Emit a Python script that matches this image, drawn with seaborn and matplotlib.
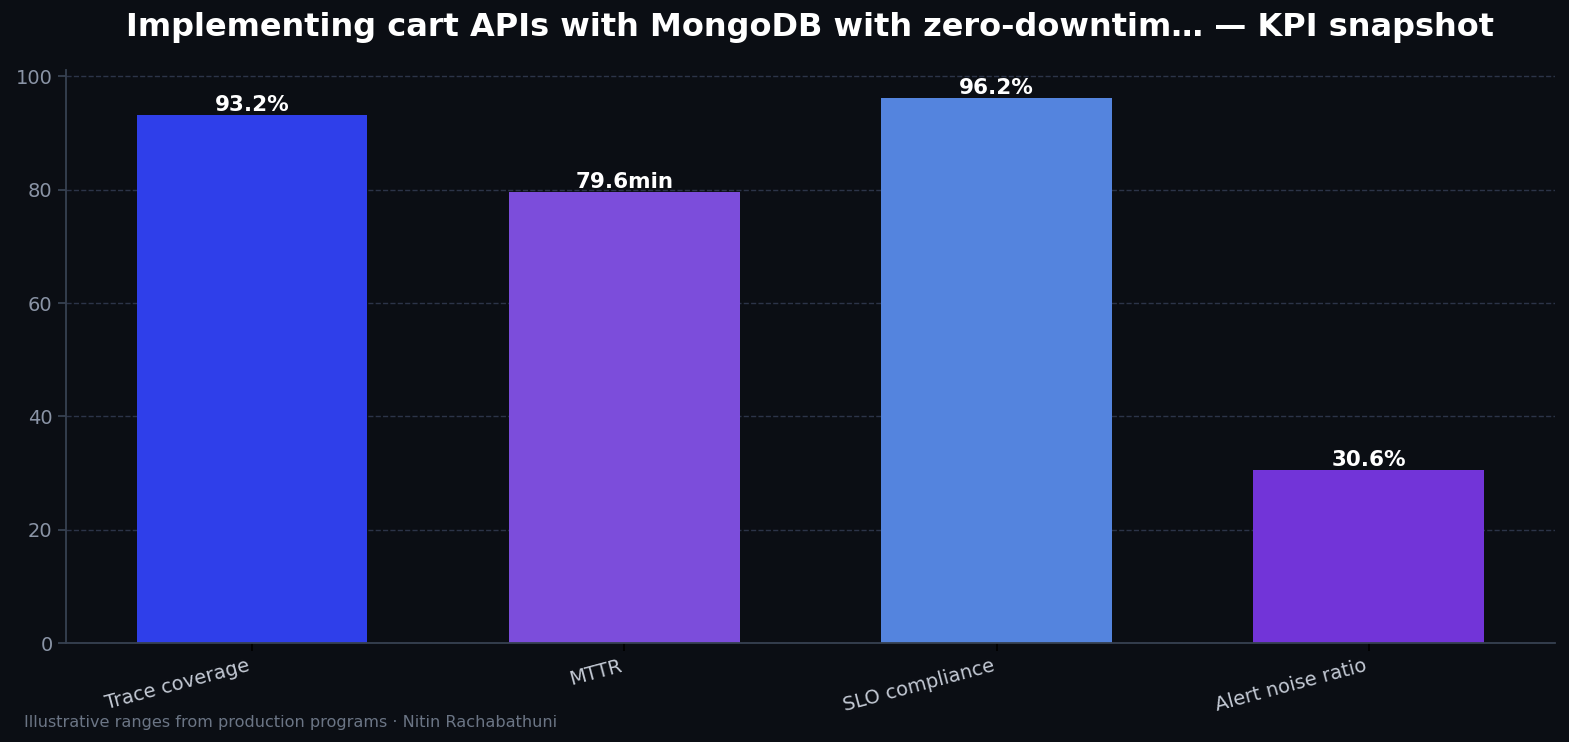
import matplotlib
matplotlib.use("Agg")
import matplotlib.pyplot as plt
import seaborn as sns
import pandas as pd

# KPI values
metrics = ["Trace coverage", "MTTR", "SLO compliance", "Alert noise ratio"]
values = [93.2, 79.6, 96.2, 30.6]
units = ["%", "min", "%", "%"]
colors = ["#2f3fea", "#7c4ddb", "#5484de", "#7234d8"]

bg = "#0b0e14"
df = pd.DataFrame({"Metric": metrics, "Value": values})

sns.set_style("dark")
plt.rcParams["font.family"] = ["DejaVu Sans"]

fig, ax = plt.subplots(figsize=(15.69, 7.42), dpi=100)
fig.patch.set_facecolor(bg)
ax.set_facecolor(bg)

sns.barplot(data=df, x="Metric", y="Value", hue="Metric", palette=colors,
            width=0.62, legend=False, saturation=1, linewidth=0, ax=ax)

for bar, v, u in zip(ax.patches, values, units):
    ax.annotate(f"{v}{u}", (bar.get_x() + bar.get_width() / 2, bar.get_height()),
                ha="center", va="bottom", color="white", fontsize=15.5,
                fontweight="bold", xytext=(0, 0), textcoords="offset points")

ax.set_ylim(0, max(values) * 1.05)
ax.set_xlabel("")
ax.set_ylabel("")
ax.set_title("Implementing cart APIs with MongoDB with zero-downtim\u2026 \u2014 KPI snapshot",
             color="white", fontsize=23, fontweight="bold", pad=25)

ax.grid(axis="y", linestyle="--", color="#2c3448", linewidth=1.0)
ax.grid(axis="x", visible=False)
ax.set_axisbelow(True)

for side in ["top", "right"]:
    ax.spines[side].set_visible(False)
for side in ["left", "bottom"]:
    ax.spines[side].set_visible(True)
    ax.spines[side].set_color("#374151")
    ax.spines[side].set_linewidth(1.3)

ax.tick_params(axis="y", colors="#374151", labelcolor="#8a94a6", labelsize=14,
               length=6, width=1.3, left=True)
ax.tick_params(axis="x", colors="black", labelcolor="#c3c9d4", labelsize=14,
               length=6, width=1.3, bottom=True)
plt.setp(ax.get_xticklabels(), rotation=15, ha="right")

fig.text(0.015, 0.02, "Illustrative ranges from production programs \u00b7 Nitin Rachabathuni",
         color="#6b7585", fontsize=11.6)

plt.subplots_adjust(left=0.042, right=0.991, top=0.905, bottom=0.133)
plt.savefig("out.png", dpi=100, facecolor=bg)
